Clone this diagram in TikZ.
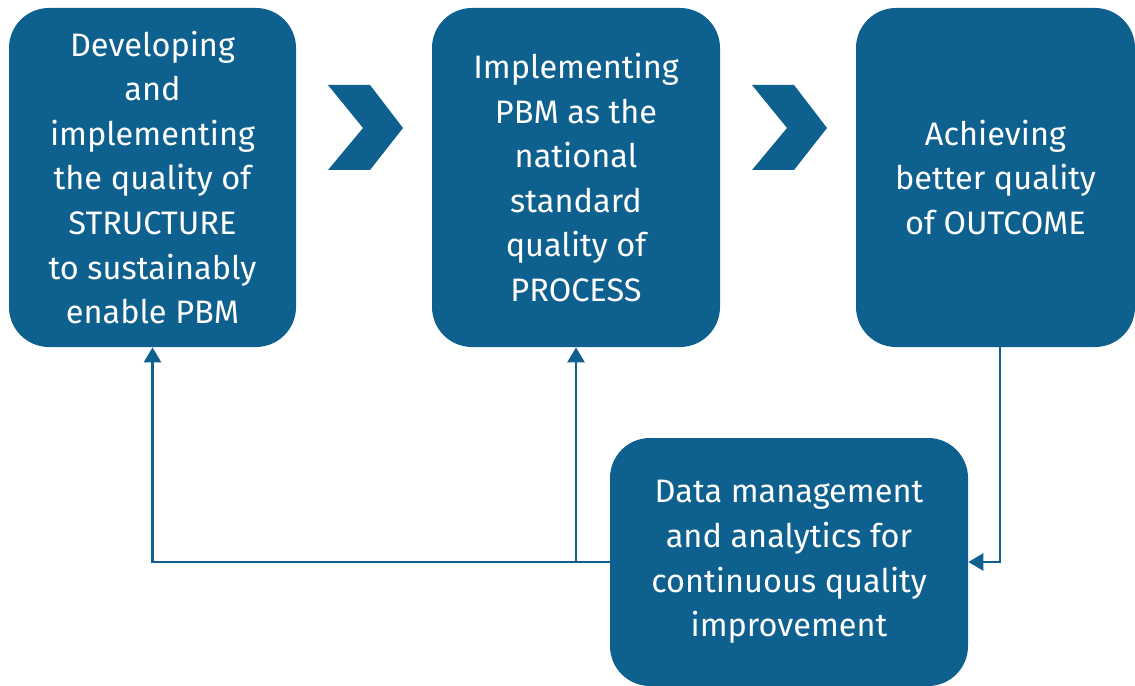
\documentclass[tikz,border=0pt]{standalone}
\usepackage{fontspec}
\setmainfont{Fira Sans}
\usepackage{xcolor}
\usepackage{tikz}
\usetikzlibrary{arrows.meta}

\definecolor{pbmblue}{RGB}{14,96,143}

\tikzset{
  stagebox/.style={rectangle, rounded corners=0.8cm, fill=pbmblue, text=white,
    align=center, inner sep=0pt, font=\fontsize{18.5}{25.4}\selectfont},
  feedback/.style={draw=pbmblue, line width=0.05cm,
    -{Triangle[width=0.34cm,length=0.3cm]}},
}

\begin{document}
\begin{tikzpicture}

% Page
\fill[white] (0,0) rectangle (22.7,-13.72);

% Stages
\node[stagebox, minimum width=5.74cm, minimum height=6.78cm] (structure) at (3.05,-3.55)
  {Developing\\and\\implementing\\the quality of\\STRUCTURE\\to sustainably\\enable PBM};
\node[stagebox, minimum width=5.76cm, minimum height=6.78cm] (process) at (11.52,-3.55)
  {Implementing\\PBM as the\\national\\standard\\quality of\\PROCESS};
\node[stagebox, minimum width=5.58cm, minimum height=6.78cm] (outcome) at (19.91,-3.55)
  {Achieving\\better quality\\of OUTCOME};

% Data box
\node[stagebox, minimum width=7.16cm, minimum height=4.96cm] (data) at (15.78,-11.24)
  {Data management\\and analytics for\\continuous quality\\improvement};

% Chevrons
\fill[pbmblue] (6.56,-1.70) -- (7.40,-1.70) -- (8.06,-2.56) -- (7.40,-3.40)
  -- (6.56,-3.40) -- (7.26,-2.56) -- cycle;
\fill[pbmblue] (15.04,-1.70) -- (15.88,-1.70) -- (16.54,-2.56) -- (15.88,-3.40)
  -- (15.04,-3.40) -- (15.74,-2.56) -- cycle;

% Feedback loop
\draw[feedback] ([xshift=0.09cm]outcome.south) |- (data.east);
\draw[feedback] (data.west) -| (structure.south);
\draw[feedback] (process.south |- data.west) -- (process.south);

\end{tikzpicture}
\end{document}
